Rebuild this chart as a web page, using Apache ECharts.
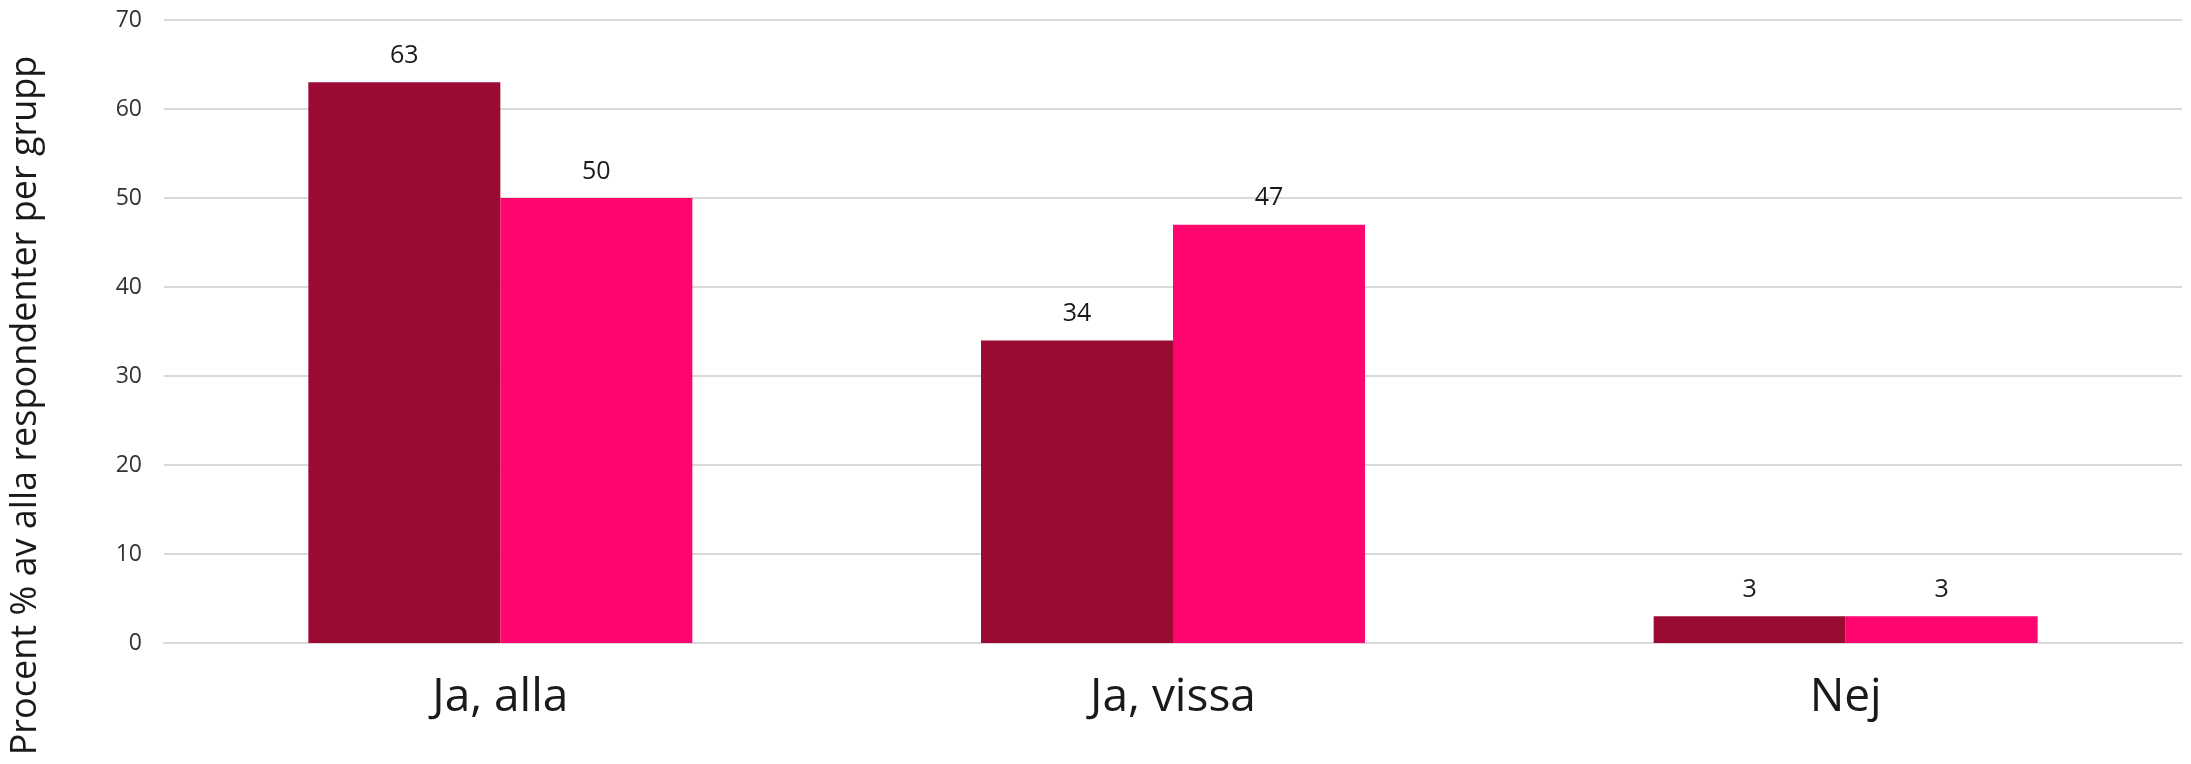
<!DOCTYPE html>
<html>
<head>
<meta charset="utf-8">
<script src="https://cdn.jsdelivr.net/npm/echarts@6/dist/echarts.min.js"></script>
<style>
html,body{margin:0;padding:0;background:#fff;}
#chart{width:2191px;height:764px;}
</style>
</head>
<body>
<div id="chart"></div>
<script>
const categories = ['Ja, alla', 'Ja, vissa', 'Nej'];
const seriesA = [63, 34, 3];
const seriesB = [50, 47, 3];
const yTicks = [0, 10, 20, 30, 40, 50, 60, 70];
const yTitle = 'Procent % av alla respondenter per grupp';

const chart = echarts.init(document.getElementById('chart'));
const font = '"Open Sans", sans-serif';
const labelCfg = {
  show: true, position: 'top', distance: 14,
  color: '#1a1a1a', fontSize: 25, fontFamily: font
};
chart.setOption({
  animation: false,
  grid: { left: 162, right: 9, top: 20, bottom: 121, containLabel: false },
  xAxis: {
    type: 'category', data: categories,
    axisLine: { lineStyle: { color: '#d9d9d9', width: 2 } },
    axisTick: { show: false },
    axisLabel: { color: '#1a1a1a', fontSize: 46, fontFamily: font, margin: 32 }
  },
  yAxis: {
    type: 'value', min: yTicks[0], max: yTicks[yTicks.length - 1], interval: 10,
    name: yTitle, nameLocation: 'middle', nameGap: 120,
    nameTextStyle: { color: '#1a1a1a', fontSize: 36, fontFamily: font, padding: [0, 148, 0, 0] },
    axisLine: { show: false }, axisTick: { show: false },
    axisLabel: { color: '#333', fontSize: 23, fontFamily: font, margin: 22 },
    splitLine: { lineStyle: { color: '#d9d9d9', width: 2 } }
  },
  series: [
    { type: 'bar', data: seriesA, barWidth: 192, barGap: '0%', itemStyle: { color: '#9a0a33' }, label: labelCfg },
    { type: 'bar', data: seriesB, barWidth: 192, barGap: '0%', itemStyle: { color: '#ff066e' }, label: labelCfg }
  ]
});
</script>
</body>
</html>
